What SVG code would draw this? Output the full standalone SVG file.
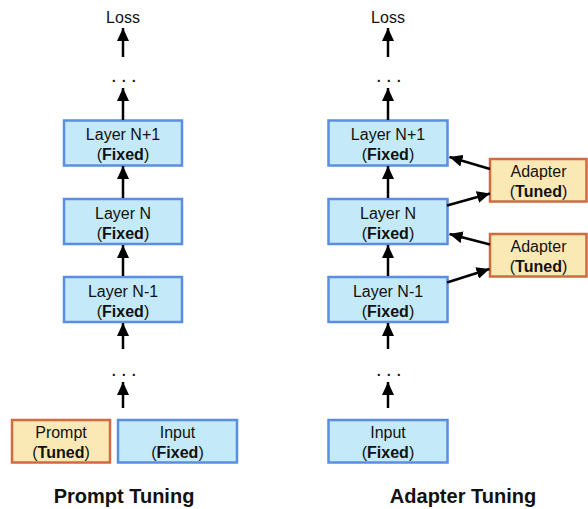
<svg xmlns="http://www.w3.org/2000/svg" width="588" height="509" viewBox="0 0 588 509">
<style>
text{font-family:"Liberation Sans",Arial,sans-serif;fill:#111;}
.lbl{font-size:16px;text-anchor:middle;}
.b{font-weight:bold;}
.title{font-size:20px;font-weight:bold;text-anchor:middle;}
.dots{font-size:20px;letter-spacing:4.5px;}
.fixed{fill:#c4e9f8;stroke:#5a8ee0;stroke-width:2.5;}
.tuned{fill:#fbe9b5;stroke:#d06a40;stroke-width:2.5;}
.arr{stroke:#000;stroke-width:2.5;fill:none;marker-end:url(#ah);}
</style>
<defs>
<marker id="ah" markerUnits="userSpaceOnUse" markerWidth="14" markerHeight="12" refX="13" refY="6" orient="auto">
<path d="M0,0 L13,6 L0,12 z" fill="#000"/>
</marker>
</defs>

<text class="lbl" x="123" y="23">Loss</text>
<text class="dots" x="111" y="82">...</text>
<text class="dots" x="111" y="376">...</text>
<text class="lbl" x="388" y="23">Loss</text>
<text class="dots" x="376" y="82">...</text>
<text class="dots" x="376" y="376">...</text>

<g id="p-n1">
<rect class="fixed" x="64" y="120.5" width="118" height="45"/>
<text class="lbl" x="123" y="140">Layer N+1</text>
<text class="lbl" x="123" y="160">(<tspan class="b">Fixed</tspan>)</text>
</g>
<g id="p-n">
<rect class="fixed" x="64" y="199" width="118" height="45"/>
<text class="lbl" x="123" y="218.5">Layer N</text>
<text class="lbl" x="123" y="238.5">(<tspan class="b">Fixed</tspan>)</text>
</g>
<g id="p-nm1">
<rect class="fixed" x="64" y="277" width="118" height="45"/>
<text class="lbl" x="123" y="296.5">Layer N-1</text>
<text class="lbl" x="123" y="316.5">(<tspan class="b">Fixed</tspan>)</text>
</g>
<g id="p-prompt">
<rect class="tuned" x="12" y="420" width="98" height="42.5"/>
<text class="lbl" x="61" y="438">Prompt</text>
<text class="lbl" x="61" y="458">(<tspan class="b">Tuned</tspan>)</text>
</g>
<g id="p-input">
<rect class="fixed" x="118" y="420" width="119" height="42.5"/>
<text class="lbl" x="177.5" y="438">Input</text>
<text class="lbl" x="177.5" y="458">(<tspan class="b">Fixed</tspan>)</text>
</g>

<g id="a-n1">
<rect class="fixed" x="328.5" y="120.5" width="119" height="45"/>
<text class="lbl" x="388" y="140">Layer N+1</text>
<text class="lbl" x="388" y="160">(<tspan class="b">Fixed</tspan>)</text>
</g>
<g id="a-n">
<rect class="fixed" x="328.5" y="199" width="119" height="45"/>
<text class="lbl" x="388" y="218.5">Layer N</text>
<text class="lbl" x="388" y="238.5">(<tspan class="b">Fixed</tspan>)</text>
</g>
<g id="a-nm1">
<rect class="fixed" x="328.5" y="277" width="119" height="45"/>
<text class="lbl" x="388" y="296.5">Layer N-1</text>
<text class="lbl" x="388" y="316.5">(<tspan class="b">Fixed</tspan>)</text>
</g>
<g id="a-ad1">
<rect class="tuned" x="490" y="159" width="96.5" height="42.5"/>
<text class="lbl" x="538.5" y="177">Adapter</text>
<text class="lbl" x="538.5" y="197">(<tspan class="b">Tuned</tspan>)</text>
</g>
<g id="a-ad2">
<rect class="tuned" x="490" y="234" width="96.5" height="42.5"/>
<text class="lbl" x="538.5" y="252">Adapter</text>
<text class="lbl" x="538.5" y="272">(<tspan class="b">Tuned</tspan>)</text>
</g>
<g id="a-input">
<rect class="fixed" x="328.5" y="420" width="119" height="42.5"/>
<text class="lbl" x="388" y="438">Input</text>
<text class="lbl" x="388" y="458">(<tspan class="b">Fixed</tspan>)</text>
</g>

<text class="title" x="124" y="503">Prompt Tuning</text>
<text class="title" x="463" y="503">Adapter Tuning</text>

<g id="connectors">
<line class="arr" x1="123" y1="57" x2="123" y2="28"/>
<line class="arr" x1="123" y1="120" x2="123" y2="88"/>
<line class="arr" x1="123" y1="198" x2="123" y2="166"/>
<line class="arr" x1="123" y1="276" x2="123" y2="245"/>
<line class="arr" x1="123" y1="349" x2="123" y2="323"/>
<line class="arr" x1="123" y1="408" x2="123" y2="382"/>
<line class="arr" x1="388" y1="57" x2="388" y2="28"/>
<line class="arr" x1="388" y1="120" x2="388" y2="88"/>
<line class="arr" x1="388" y1="198" x2="388" y2="166"/>
<line class="arr" x1="388" y1="276" x2="388" y2="245"/>
<line class="arr" x1="388" y1="349" x2="388" y2="323"/>
<line class="arr" x1="388" y1="408" x2="388" y2="382"/>
<line class="arr" x1="490" y1="169" x2="449.5" y2="157"/>
<line class="arr" x1="447" y1="205.5" x2="490" y2="193.5"/>
<line class="arr" x1="490" y1="244.5" x2="449.5" y2="234"/>
<line class="arr" x1="447" y1="282.5" x2="489.5" y2="269"/>
</g>
</svg>
